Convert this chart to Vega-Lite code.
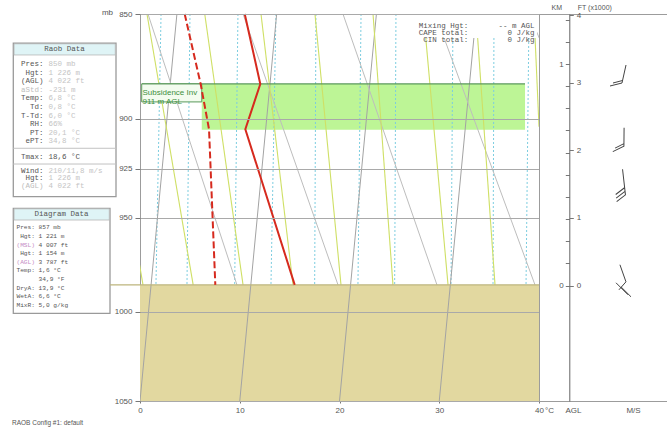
{
  "$schema": "https://vega.github.io/schema/vega-lite/v6.json",
  "background": "white",
  "padding": {"left": 0, "top": 2, "right": 0, "bottom": 0},
  "spacing": 0,
  "bounds": "flush",
  "config": {
    "font": "Liberation Sans",
    "view": {"stroke": null},
    "axis": {"labelFont": "Liberation Sans", "labelFontSize": 8, "labelColor": "#555", "titleFont": "Liberation Sans", "titleFontSize": 8, "titleFontWeight": "normal", "titleColor": "#555", "tickColor": "#777", "domainColor": "#666"}
  },
  "datasets": {
    "bg": [
      {"k": "iso", "id": "i0", "p": 1050, "x": 0}, {"k": "iso", "id": "i0", "p": 850, "x": 3.7},
      {"k": "iso", "id": "i10", "p": 1050, "x": 10}, {"k": "iso", "id": "i10", "p": 850, "x": 13.7},
      {"k": "iso", "id": "i20", "p": 1050, "x": 20}, {"k": "iso", "id": "i20", "p": 850, "x": 23.7},
      {"k": "iso", "id": "i30", "p": 1050, "x": 30}, {"k": "iso", "id": "i30", "p": 850, "x": 33.7},
      {"k": "dry", "id": "dA", "p": 850, "x": 0.8}, {"k": "dry", "id": "dA", "p": 985.5, "x": 9.72},
      {"k": "dry", "id": "dB", "p": 850, "x": 10.33}, {"k": "dry", "id": "dB", "p": 985.5, "x": 19.85},
      {"k": "dry", "id": "dC", "p": 850, "x": 20.35}, {"k": "dry", "id": "dC", "p": 985.5, "x": 29.77},
      {"k": "dry", "id": "dD", "p": 850, "x": 29.6}, {"k": "dry", "id": "dD", "p": 985.5, "x": 39.6},
      {"k": "dry", "id": "dE", "p": 850, "x": 39.0}, {"k": "dry", "id": "dE", "p": 872, "x": 41.0},
      {"k": "moist", "id": "m0", "p": 967, "x": -0.3}, {"k": "moist", "id": "m0", "p": 985.5, "x": 0.3},
      {"k": "moist", "id": "m1", "p": 850, "x": 0.7}, {"k": "moist", "id": "m1", "p": 985.5, "x": 5.33},
      {"k": "moist", "id": "m2", "p": 850, "x": 6.49}, {"k": "moist", "id": "m2", "p": 985.5, "x": 10.33},
      {"k": "moist", "id": "m3", "p": 850, "x": 12.13}, {"k": "moist", "id": "m3", "p": 985.5, "x": 15.34},
      {"k": "moist", "id": "m4", "p": 850, "x": 17.54}, {"k": "moist", "id": "m4", "p": 985.5, "x": 20.15},
      {"k": "moist", "id": "m5", "p": 850, "x": 23.36}, {"k": "moist", "id": "m5", "p": 985.5, "x": 25.36},
      {"k": "moist", "id": "m6", "p": 850, "x": 28.43}, {"k": "moist", "id": "m6", "p": 985.5, "x": 30.88},
      {"k": "moist", "id": "m7", "p": 850, "x": 33.68}, {"k": "moist", "id": "m7", "p": 985.5, "x": 35.59},
      {"k": "moist", "id": "m8", "p": 850, "x": 39.5}, {"k": "moist", "id": "m8", "p": 904, "x": 40.0},
      {"k": "mix", "id": "w1", "p": 850, "x": 2.11}, {"k": "mix", "id": "w1", "p": 985.5, "x": 1.6},
      {"k": "mix", "id": "w2", "p": 850, "x": 5.01}, {"k": "mix", "id": "w2", "p": 985.5, "x": 4.71},
      {"k": "mix", "id": "w3", "p": 850, "x": 9.82}, {"k": "mix", "id": "w3", "p": 985.5, "x": 9.49},
      {"k": "mix", "id": "w4", "p": 850, "x": 13.63}, {"k": "mix", "id": "w4", "p": 985.5, "x": 13.13},
      {"k": "mix", "id": "w5", "p": 850, "x": 17.64}, {"k": "mix", "id": "w5", "p": 985.5, "x": 17.51},
      {"k": "mix", "id": "w6", "p": 850, "x": 22.16}, {"k": "mix", "id": "w6", "p": 985.5, "x": 21.85},
      {"k": "mix", "id": "w7", "p": 850, "x": 25.66}, {"k": "mix", "id": "w7", "p": 985.5, "x": 25.53},
      {"k": "mix", "id": "w8", "p": 850, "x": 31.38}, {"k": "mix", "id": "w8", "p": 985.5, "x": 31.18},
      {"k": "mix", "id": "w9", "p": 850, "x": 35.49}, {"k": "mix", "id": "w9", "p": 985.5, "x": 35.39},
      {"k": "mix", "id": "w10", "p": 850, "x": 39.0}, {"k": "mix", "id": "w10", "p": 985.5, "x": 38.7}
    ],
    "prof": [
      {"s": "T", "p": 850, "x": 10.5}, {"s": "T", "p": 883.1, "x": 12.06}, {"s": "T", "p": 905.2, "x": 10.56}, {"s": "T", "p": 985.5, "x": 15.51},
      {"s": "Td", "p": 850, "x": 4.48}, {"s": "Td", "p": 883.1, "x": 6.08}, {"s": "Td", "p": 905.2, "x": 6.92}, {"s": "Td", "p": 925, "x": 7.08}, {"s": "Td", "p": 985.5, "x": 7.55}
    ],
    "surface": [{"p": 985.5}],
    "inv": [{"top": 883.1, "base": 905.5, "agl": 911}],
    "wind": [
      {"h": 3.133, "dir": 0, "spd": 10},
      {"h": 2.2, "dir": 348, "spd": 10},
      {"h": 1.533, "dir": 341, "spd": 15},
      {"h": 0.04, "dir": 0, "spd": 5}
    ],
    "info": [
      {"grp": "raob", "line": 1, "label": "Pres:", "value": "850 mb"},
      {"grp": "raob", "line": 2, "label": "Hgt:", "value": "1 226 m"},
      {"grp": "raob", "line": 3, "label": "(AGL)", "value": "4 022 ft"},
      {"grp": "raob", "line": 4, "label": "aStd:", "value": "-231 m"},
      {"grp": "raob", "line": 5, "label": "Temp:", "value": "6,8 °C"},
      {"grp": "raob", "line": 6, "label": "Td:", "value": "0,8 °C"},
      {"grp": "raob", "line": 7, "label": "T-Td:", "value": "6,0 °C"},
      {"grp": "raob", "line": 8, "label": "RH:", "value": "66%"},
      {"grp": "raob", "line": 9, "label": "PT:", "value": "20,1 °C"},
      {"grp": "raob", "line": 10, "label": "ePT:", "value": "34,8 °C"},
      {"grp": "tmax", "line": 11.8, "label": "Tmax:", "value": "18,6 °C"},
      {"grp": "raob", "line": 13.4, "label": "Wind:", "value": "210/11,8 m/s"},
      {"grp": "raob", "line": 14.3, "label": "Hgt:", "value": "1 226 m"},
      {"grp": "raob", "line": 15.2, "label": "(AGL)", "value": "4 022 ft"},
      {"grp": "diag", "line": 20, "label": "Pres:", "value": "857 mb"},
      {"grp": "diag", "line": 21, "label": "Hgt:", "value": "1 221 m"},
      {"grp": "diag", "line": 22, "label": "(MSL)", "value": "4 007 ft"},
      {"grp": "diag", "line": 23, "label": "Hgt:", "value": "1 154 m"},
      {"grp": "diag", "line": 24, "label": "(AGL)", "value": "3 787 ft"},
      {"grp": "diag", "line": 25, "label": "Temp:", "value": "1,6 °C"},
      {"grp": "diag", "line": 26, "label": "", "value": "34,9 °F"},
      {"grp": "diag", "line": 27, "label": "DryA:", "value": "13,9 °C"},
      {"grp": "diag", "line": 28, "label": "WetA:", "value": "6,6 °C"},
      {"grp": "diag", "line": 29, "label": "MixR:", "value": "5,0 g/kg"}
    ],
    "one": [{"n": 1}]
  },
  "hconcat": [
    {
      "width": 140, "height": 387,
      "view": {"stroke": null},
      "layer": [
        {"data": {"name": "one"}, "mark": {"type": "rect", "fill": "white", "stroke": "#9a9a9a", "strokeWidth": 1.3},
         "encoding": {"x": {"datum": 13.3, "type": "quantitative", "scale": {"domain": [0, 140], "nice": false, "zero": false}, "axis": null}, "x2": {"datum": 116},
                      "y": {"datum": -1.41, "type": "quantitative", "scale": {"domain": [-4.814, 40.186], "range": [0, 387], "nice": false, "zero": false}, "axis": null}, "y2": {"datum": 16.43}}},
        {"data": {"name": "one"}, "mark": {"type": "rect", "fill": "#dff4f6", "stroke": "#b5b5b5", "strokeWidth": 0.8},
         "encoding": {"x": {"datum": 14, "type": "quantitative", "scale": {"domain": [0, 140], "nice": false, "zero": false}, "axis": null}, "x2": {"datum": 115.3},
                      "y": {"datum": -1.35, "type": "quantitative", "scale": {"domain": [-4.814, 40.186], "range": [0, 387], "nice": false, "zero": false}, "axis": null}, "y2": {"datum": -0.05}}},
        {"data": {"name": "one"}, "mark": {"type": "text", "text": "Raob Data", "font": "Liberation Mono", "fontSize": 7.5, "color": "#555", "align": "center", "baseline": "middle"},
         "encoding": {"x": {"datum": 64.5, "type": "quantitative", "scale": {"domain": [0, 140], "nice": false, "zero": false}, "axis": null},
                      "y": {"datum": -0.7, "type": "quantitative", "scale": {"domain": [-4.814, 40.186], "range": [0, 387], "nice": false, "zero": false}, "axis": null}}},
        {"data": {"name": "one"}, "mark": {"type": "rule", "color": "#c2c2c2", "strokeWidth": 1},
         "encoding": {"x": {"datum": 13.3, "type": "quantitative", "scale": {"domain": [0, 140], "nice": false, "zero": false}, "axis": null}, "x2": {"datum": 116},
                      "y": {"datum": 10.8, "type": "quantitative", "scale": {"domain": [-4.814, 40.186], "range": [0, 387], "nice": false, "zero": false}, "axis": null}}},
        {"data": {"name": "one"}, "mark": {"type": "rule", "color": "#c2c2c2", "strokeWidth": 1},
         "encoding": {"x": {"datum": 13.3, "type": "quantitative", "scale": {"domain": [0, 140], "nice": false, "zero": false}, "axis": null}, "x2": {"datum": 116},
                      "y": {"datum": 12.63, "type": "quantitative", "scale": {"domain": [-4.814, 40.186], "range": [0, 387], "nice": false, "zero": false}, "axis": null}}},
        {"data": {"name": "one"}, "mark": {"type": "rect", "fill": "white", "stroke": "#9a9a9a", "strokeWidth": 1.3},
         "encoding": {"x": {"datum": 13.3, "type": "quantitative", "scale": {"domain": [0, 140], "nice": false, "zero": false}, "axis": null}, "x2": {"datum": 110},
                      "y": {"datum": 17.78, "type": "quantitative", "scale": {"domain": [-4.814, 40.186], "range": [0, 387], "nice": false, "zero": false}, "axis": null}, "y2": {"datum": 29.99}}},
        {"data": {"name": "one"}, "mark": {"type": "rect", "fill": "#dff4f6", "stroke": "#b5b5b5", "strokeWidth": 0.8},
         "encoding": {"x": {"datum": 14, "type": "quantitative", "scale": {"domain": [0, 140], "nice": false, "zero": false}, "axis": null}, "x2": {"datum": 109.3},
                      "y": {"datum": 17.84, "type": "quantitative", "scale": {"domain": [-4.814, 40.186], "range": [0, 387], "nice": false, "zero": false}, "axis": null}, "y2": {"datum": 19.14}}},
        {"data": {"name": "one"}, "mark": {"type": "text", "text": "Diagram Data", "font": "Liberation Mono", "fontSize": 7.5, "color": "#555", "align": "center", "baseline": "middle"},
         "encoding": {"x": {"datum": 61.5, "type": "quantitative", "scale": {"domain": [0, 140], "nice": false, "zero": false}, "axis": null},
                      "y": {"datum": 18.47, "type": "quantitative", "scale": {"domain": [-4.814, 40.186], "range": [0, 387], "nice": false, "zero": false}, "axis": null}}},
        {"data": {"name": "info"}, "transform": [{"filter": "datum.grp !== 'diag'"}],
         "mark": {"type": "text", "font": "Liberation Mono", "fontSize": 7.5, "align": "right", "baseline": "middle"},
         "encoding": {"text": {"field": "label"},
                      "color": {"condition": {"test": "datum.label === 'aStd:' || datum.line > 15", "value": "#bdbdbd"}, "value": "#555"},
                      "x": {"datum": 43.5, "type": "quantitative", "scale": {"domain": [0, 140], "nice": false, "zero": false}, "axis": null},
                      "y": {"field": "line", "type": "quantitative", "scale": {"domain": [-4.814, 40.186], "range": [0, 387], "nice": false, "zero": false}, "axis": null}}},
        {"data": {"name": "info"}, "transform": [{"filter": "datum.grp !== 'diag'"}],
         "mark": {"type": "text", "font": "Liberation Mono", "fontSize": 7.5, "align": "left", "baseline": "middle"},
         "encoding": {"text": {"field": "value"},
                      "color": {"condition": {"test": "datum.grp === 'tmax'", "value": "#555"}, "value": "#c4c4c4"},
                      "x": {"datum": 48.5, "type": "quantitative", "scale": {"domain": [0, 140], "nice": false, "zero": false}, "axis": null},
                      "y": {"field": "line", "type": "quantitative", "scale": {"domain": [-4.814, 40.186], "range": [0, 387], "nice": false, "zero": false}, "axis": null}}},
        {"data": {"name": "info"}, "transform": [{"filter": "datum.grp === 'diag'"}],
         "mark": {"type": "text", "font": "Liberation Mono", "fontSize": 6.2, "align": "right", "baseline": "middle"},
         "encoding": {"text": {"field": "label"},
                      "color": {"condition": {"test": "datum.label === '(MSL)' || datum.label === '(AGL)'", "value": "#c48cc4"}, "value": "#555"},
                      "x": {"datum": 35, "type": "quantitative", "scale": {"domain": [0, 140], "nice": false, "zero": false}, "axis": null},
                      "y": {"field": "line", "type": "quantitative", "scale": {"domain": [-4.814, 40.186], "range": [0, 387], "nice": false, "zero": false}, "axis": null}}},
        {"data": {"name": "info"}, "transform": [{"filter": "datum.grp === 'diag'"}],
         "mark": {"type": "text", "font": "Liberation Mono", "fontSize": 6.2, "align": "left", "baseline": "middle", "color": "#555"},
         "encoding": {"text": {"field": "value"},
                      "x": {"datum": 38.5, "type": "quantitative", "scale": {"domain": [0, 140], "nice": false, "zero": false}, "axis": null},
                      "y": {"field": "line", "type": "quantitative", "scale": {"domain": [-4.814, 40.186], "range": [0, 387], "nice": false, "zero": false}, "axis": null}}},
        {"data": {"name": "one"}, "mark": {"type": "text", "text": "RAOB Config #1: default", "fontSize": 6.5, "color": "#555", "align": "left", "baseline": "middle"},
         "encoding": {"x": {"datum": 12, "type": "quantitative", "scale": {"domain": [0, 140], "nice": false, "zero": false}, "axis": null},
                      "y": {"datum": 42.74, "type": "quantitative", "scale": {"domain": [-4.814, 40.186], "range": [0, 387], "nice": false, "zero": false}, "axis": null}}}
      ]
    },
    {
      "width": 399, "height": 387,
      "view": {"stroke": "#9c9c9c", "strokeWidth": 1},
      "layer": [
        {"data": {"name": "surface"}, "mark": {"type": "rect", "fill": "#e2d8a0"},
         "encoding": {"x": {"datum": 0, "type": "quantitative", "scale": {"domain": [0, 40], "nice": false, "zero": false}}, "x2": {"datum": 40},
                      "y": {"field": "p", "type": "quantitative", "scale": {"type": "log", "domain": [850, 1050], "range": [0, 387], "nice": false}}, "y2": {"datum": 1050}}},
        {"data": {"name": "inv"}, "mark": {"type": "rect", "fill": "#bdf596"},
         "encoding": {"x": {"datum": 6.19, "type": "quantitative", "scale": {"domain": [0, 40], "nice": false, "zero": false}}, "x2": {"datum": 38.6},
                      "y": {"field": "top", "type": "quantitative", "scale": {"type": "log", "domain": [850, 1050], "range": [0, 387], "nice": false}}, "y2": {"field": "base"}}},
        {"data": {"name": "bg"}, "transform": [{"filter": "datum.k === 'mix'"}],
         "mark": {"type": "line", "color": "#7ccde0", "strokeWidth": 1, "strokeDash": [2, 2], "clip": true},
         "encoding": {"x": {"field": "x", "type": "quantitative", "scale": {"domain": [0, 40], "nice": false, "zero": false},
                            "axis": {"values": [0, 10, 20, 30, 40], "grid": false, "tickSize": 2, "labelFlush": false, "domain": false, "title": null, "labelPadding": 3}},
                      "y": {"field": "p", "type": "quantitative", "scale": {"type": "log", "domain": [850, 1050], "range": [0, 387], "nice": false},
                            "axis": {"values": [850, 900, 925, 950, 1000, 1050], "format": "d", "grid": true, "gridColor": "#a9a9a9", "gridWidth": 1, "tickSize": 5, "labelPadding": 3, "domain": false, "zindex": 1,
                                     "title": "mb", "titleAngle": 0, "titleX": -33, "titleY": -2, "titleAlign": "center", "titleBaseline": "middle"}},
                      "detail": {"field": "id"}, "order": {"field": "p"}}},
        {"data": {"name": "bg"}, "transform": [{"filter": "datum.k === 'iso'"}],
         "mark": {"type": "line", "color": "#a3a3a3", "strokeWidth": 1, "clip": true},
         "encoding": {"x": {"field": "x", "type": "quantitative", "scale": {"domain": [0, 40], "nice": false, "zero": false}},
                      "y": {"field": "p", "type": "quantitative", "scale": {"type": "log", "domain": [850, 1050], "range": [0, 387], "nice": false}},
                      "detail": {"field": "id"}, "order": {"field": "p"}}},
        {"data": {"name": "bg"}, "transform": [{"filter": "datum.k === 'dry'"}],
         "mark": {"type": "line", "color": "#bdbdbd", "strokeWidth": 1, "clip": true},
         "encoding": {"x": {"field": "x", "type": "quantitative", "scale": {"domain": [0, 40], "nice": false, "zero": false}},
                      "y": {"field": "p", "type": "quantitative", "scale": {"type": "log", "domain": [850, 1050], "range": [0, 387], "nice": false}},
                      "detail": {"field": "id"}, "order": {"field": "p"}}},
        {"data": {"name": "bg"}, "transform": [{"filter": "datum.k === 'moist'"}],
         "mark": {"type": "line", "color": "#cfe065", "strokeWidth": 1.1, "clip": true},
         "encoding": {"x": {"field": "x", "type": "quantitative", "scale": {"domain": [0, 40], "nice": false, "zero": false}},
                      "y": {"field": "p", "type": "quantitative", "scale": {"type": "log", "domain": [850, 1050], "range": [0, 387], "nice": false}},
                      "detail": {"field": "id"}, "order": {"field": "p"}}},
        {"data": {"name": "surface"}, "mark": {"type": "rule", "color": "#bdb57c", "strokeWidth": 1.2},
         "encoding": {"x": {"datum": -3, "type": "quantitative", "scale": {"domain": [0, 40], "nice": false, "zero": false}}, "x2": {"datum": 40},
                      "y": {"field": "p", "type": "quantitative", "scale": {"type": "log", "domain": [850, 1050], "range": [0, 387], "nice": false}}}},
        {"data": {"name": "inv"}, "mark": {"type": "rule", "color": "#5a995a", "strokeWidth": 1.2},
         "encoding": {"x": {"datum": 0.17, "type": "quantitative", "scale": {"domain": [0, 40], "nice": false, "zero": false}}, "x2": {"datum": 38.6},
                      "y": {"field": "top", "type": "quantitative", "scale": {"type": "log", "domain": [850, 1050], "range": [0, 387], "nice": false}}}},
        {"data": {"name": "inv"}, "mark": {"type": "rect", "fill": "#f3fcef", "stroke": "#5a995a", "strokeWidth": 1},
         "encoding": {"x": {"datum": 0.17, "type": "quantitative", "scale": {"domain": [0, 40], "nice": false, "zero": false}}, "x2": {"datum": 6.19},
                      "y": {"field": "top", "type": "quantitative", "scale": {"type": "log", "domain": [850, 1050], "range": [0, 387], "nice": false}}, "y2": {"datum": 891.8}}},
        {"data": {"name": "inv"}, "mark": {"type": "text", "text": ["Subsidence Inv", "911 m AGL"], "lineHeight": 8.5, "fontSize": 8, "color": "#3d8f3d", "align": "left", "baseline": "middle"},
         "encoding": {"x": {"datum": 0.25, "type": "quantitative", "scale": {"domain": [0, 40], "nice": false, "zero": false}},
                      "y": {"datum": 887.6, "type": "quantitative", "scale": {"type": "log", "domain": [850, 1050], "range": [0, 387], "nice": false}}}},
        {"data": {"name": "prof"}, "transform": [{"filter": "datum.s === 'T'"}],
         "mark": {"type": "line", "color": "#d62a1e", "strokeWidth": 2},
         "encoding": {"x": {"field": "x", "type": "quantitative", "scale": {"domain": [0, 40], "nice": false, "zero": false}},
                      "y": {"field": "p", "type": "quantitative", "scale": {"type": "log", "domain": [850, 1050], "range": [0, 387], "nice": false}},
                      "order": {"field": "p"}}},
        {"data": {"name": "prof"}, "transform": [{"filter": "datum.s === 'Td'"}],
         "mark": {"type": "line", "color": "#d62a1e", "strokeWidth": 2, "strokeDash": [7, 3]},
         "encoding": {"x": {"field": "x", "type": "quantitative", "scale": {"domain": [0, 40], "nice": false, "zero": false}},
                      "y": {"field": "p", "type": "quantitative", "scale": {"type": "log", "domain": [850, 1050], "range": [0, 387], "nice": false}},
                      "order": {"field": "p"}}},
        {"data": {"name": "one"}, "mark": {"type": "rect", "fill": "white"},
         "encoding": {"x": {"datum": 27.3, "type": "quantitative", "scale": {"domain": [0, 40], "nice": false, "zero": false}}, "x2": {"datum": 39.8},
                      "y": {"datum": 850.3, "type": "quantitative", "scale": {"type": "log", "domain": [850, 1050], "range": [0, 387], "nice": false}}, "y2": {"datum": 861.2}}},
        {"data": {"name": "one"}, "mark": {"type": "text", "text": ["Mixing Hgt:", "CAPE total:", "CIN total:"], "lineHeight": 6.6, "font": "Liberation Mono", "fontSize": 7.5, "color": "#555", "align": "right", "baseline": "middle"},
         "encoding": {"x": {"datum": 32.9, "type": "quantitative", "scale": {"domain": [0, 40], "nice": false, "zero": false}},
                      "y": {"datum": 855.8, "type": "quantitative", "scale": {"type": "log", "domain": [850, 1050], "range": [0, 387], "nice": false}}}},
        {"data": {"name": "one"}, "mark": {"type": "text", "text": ["-- m AGL", "0 J/kg", "0 J/kg"], "lineHeight": 6.6, "font": "Liberation Mono", "fontSize": 7.5, "color": "#555", "align": "right", "baseline": "middle"},
         "encoding": {"x": {"datum": 39.55, "type": "quantitative", "scale": {"domain": [0, 40], "nice": false, "zero": false}},
                      "y": {"datum": 855.8, "type": "quantitative", "scale": {"type": "log", "domain": [850, 1050], "range": [0, 387], "nice": false}}}}
      ]
    },
    {
      "width": 128, "height": 387,
      "view": {"stroke": "#9c9c9c", "strokeWidth": 1},
      "data": {"name": "wind"},
      "layer": [
        {"mark": {"type": "point", "filled": false, "color": "#444", "strokeWidth": 1, "size": 784, "opacity": 1},
         "encoding": {
           "x": {"datum": 85, "type": "quantitative", "scale": {"domain": [0, 128], "nice": false, "zero": false},
                 "axis": {"values": [10, 34, 94], "labelExpr": "datum.value == 10 ? '°C' : (datum.value == 34 ? 'AGL' : 'M/S')", "ticks": false, "domain": false, "grid": false, "title": null, "labelPadding": 5, "labelFlush": false}},
           "y": {"field": "h", "type": "quantitative", "scale": {"domain": [-1.711, 4.022], "nice": false, "zero": false},
                 "axis": {"orient": "left", "offset": -30.3, "values": [0, 0.328, 0.656, 0.984, 1.312, 1.64, 1.969, 2.297, 2.625, 2.953, 3.281, 3.609, 3.937],
                          "labelExpr": "datum.value == 0 ? '0' : (abs(datum.value - 3.281) < 0.01 ? '1' : '')", "tickSize": 4, "labelPadding": 2, "grid": false, "domain": true, "domainColor": "#666",
                          "title": "KM", "titleAngle": 0, "titleX": -13, "titleY": -5, "titleAlign": "center", "titleBaseline": "alphabetic", "titleFontSize": 7}},
           "shape": {"field": "spd", "type": "ordinal", "legend": null,
                     "scale": {"domain": [5, 10, 15], "range": [
                       "M-0.29,-1.29L0.14,-0.07L-0.36,0.5M-0.57,0L0.29,0.86M-0.21,0.29L0.5,1",
                       "M0.143,-0.643L-0.143,0.643L-1,0.857M-0.107,0.464L-0.786,0.643",
                       "M0.2,-0.9L-0.2,0.9L-0.95,1.15M-0.15,0.65L-0.9,0.9M-0.1,0.4L-0.85,0.65"]}},
           "angle": {"field": "dir", "type": "quantitative", "scale": {"domain": [0, 360], "range": [0, 360]}}
         }},
        {"mark": {"type": "point", "opacity": 0},
         "encoding": {
           "x": {"datum": 85, "type": "quantitative", "scale": {"domain": [0, 128], "nice": false, "zero": false}},
           "y": {"field": "h", "type": "quantitative", "scale": {"domain": [-1.711, 4.022], "nice": false, "zero": false},
                 "axis": {"orient": "right", "offset": -97.7, "values": [0, 1, 2, 3, 4], "format": "d", "tickSize": 4, "labelPadding": 3, "grid": false, "domain": false,
                          "title": "FT (x1000)", "titleAngle": 0, "titleX": 25, "titleY": -5, "titleAlign": "center", "titleBaseline": "alphabetic", "titleFontSize": 7}}
         }}
      ],
      "resolve": {"axis": {"y": "independent"}}
    }
  ]
}
